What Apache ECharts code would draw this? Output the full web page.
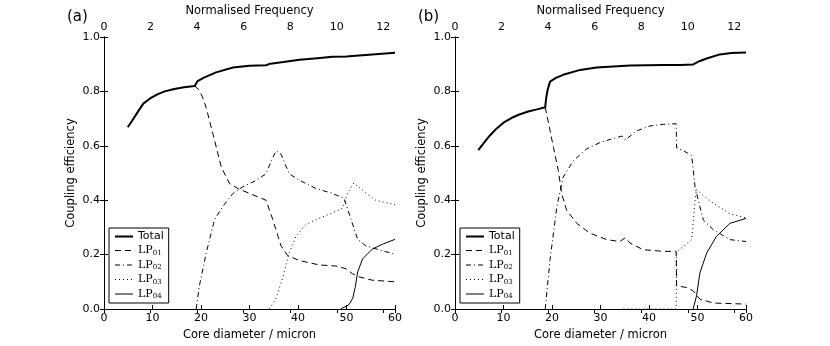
<!DOCTYPE html>
<html>
<head>
<meta charset="utf-8">
<script src="https://cdn.jsdelivr.net/npm/echarts@6/dist/echarts.min.js"></script>
<style>
  html, body { margin: 0; padding: 0; background: #fff; }
  #chart { width: 830px; height: 346px; }
</style>
</head>
<body>
<div id="chart"></div>
<script>
// panel (a): [core diameter, coupling efficiency]
const aTotal = [[4.9,0.668],[5.8,0.692],[6.8,0.72],[8.1,0.755],[9.5,0.774],[11,0.789],[12.5,0.8],[14.5,0.809],[16.5,0.815],[18.7,0.82],[19.3,0.838],[20.5,0.85],[23.1,0.87],[26.6,0.888],[30,0.894],[33.4,0.896],[34.3,0.902],[37,0.908],[40.3,0.916],[44,0.922],[47.1,0.927],[50,0.928],[51.9,0.931],[56,0.937],[60,0.942]]
const aLP01 = [[18.7,0.82],[19.7,0.804],[20.4,0.775],[21.1,0.738],[22.5,0.641],[24.2,0.521],[25.9,0.461],[27.6,0.443],[30,0.425],[33.4,0.4],[34.8,0.329],[36.5,0.232],[37.9,0.196],[40.3,0.178],[44.4,0.162],[47.8,0.158],[49.9,0.148],[51.2,0.13],[52.6,0.118],[55.3,0.106],[60,0.1]]
const aLP02 = [[19,0],[19.7,0.088],[21.1,0.208],[22.8,0.329],[24.5,0.377],[26.6,0.425],[28.6,0.449],[31.4,0.473],[33.4,0.497],[34.5,0.545],[35.5,0.582],[36.5,0.569],[38.2,0.497],[40.3,0.473],[43.7,0.443],[47.1,0.425],[49.5,0.407],[50.5,0.353],[52.3,0.256],[54,0.232],[57.4,0.214],[60,0.202]]
const aLP03 = [[34.1,0],[35.5,0.04],[36.8,0.112],[38.2,0.208],[39.6,0.268],[41.6,0.31],[43.7,0.329],[47.1,0.353],[49.2,0.371],[50.2,0.425],[51.5,0.463],[53.3,0.437],[56,0.4],[60,0.383]]
const aLP04 = [[48.8,0],[50.5,0.016],[51.3,0.04],[51.8,0.08],[52.3,0.136],[53.3,0.184],[55.3,0.22],[57.4,0.238],[60,0.256]]

// panel (b)
const bTotal = [[4.8,0.584],[6,0.612],[7.2,0.638],[8.6,0.664],[10,0.685],[11.7,0.703],[13.4,0.716],[15.1,0.726],[16.9,0.734],[18.6,0.742],[18.8,0.775],[19.1,0.806],[19.6,0.836],[20.8,0.85],[22.3,0.861],[25.8,0.879],[29.2,0.888],[36.1,0.895],[43,0.897],[46.4,0.897],[49.1,0.899],[50.5,0.912],[51.9,0.921],[54.6,0.936],[57,0.941],[60,0.943]]
const bLP01 = [[18.6,0.742],[19.2,0.691],[20.3,0.594],[21.3,0.509],[22,0.424],[23,0.364],[25.1,0.315],[27.8,0.279],[31.3,0.255],[34,0.248],[35.1,0.262],[36.1,0.242],[38.8,0.218],[43,0.212],[45.6,0.212],[45.7,0.085],[47.8,0.079],[49.1,0.067],[50.5,0.036],[53.3,0.022],[60,0.018]]
const bLP02 = [[18.6,0],[19.6,0.182],[21,0.376],[22.3,0.485],[24.4,0.545],[27.1,0.588],[29.9,0.612],[33.3,0.63],[34.4,0.636],[35.1,0.622],[37.5,0.655],[40.2,0.673],[43,0.679],[45.6,0.681],[45.7,0.592],[47.1,0.582],[48.8,0.564],[49.5,0.448],[50.5,0.376],[51.2,0.327],[53.3,0.291],[56.7,0.255],[60,0.248]]
const bLP03 = [[34.7,0],[45.6,0],[45.7,0.21],[47.1,0.23],[48.8,0.255],[49.5,0.4],[49.8,0.44],[51,0.42],[53.3,0.388],[56.7,0.35],[60,0.335]]
const bLP04 = [[49.1,0],[49.8,0.048],[50.5,0.133],[51.9,0.206],[53.9,0.267],[56.7,0.315],[60,0.333]]

const seriesNames = ['Total', 'LP01', 'LP02', 'LP03', 'LP04']
const yTicks = ['0.0', '0.2', '0.4', '0.6', '0.8', '1.0']

const lineStyles = [
  { width: 2, type: 'solid' },
  { width: 1, type: [6, 4] },
  { width: 1, type: [5, 3, 1, 3] },
  { width: 1, type: [1, 3] },
  { width: 1, type: 'solid' }
]

const panels = [
  { left: 104, label: '(a)', data: [aTotal, aLP01, aLP02, aLP03, aLP04] },
  { left: 455, label: '(b)', data: [bTotal, bLP01, bLP02, bLP03, bLP04] }
]

const font = 'DejaVu Sans'
const grids = [], xAxes = [], yAxes = [], series = [], legends = [], titles = []

panels.forEach((p, i) => {
  grids.push({ left: p.left, top: 34, width: 291, height: 277 })
  const common = {
    gridIndex: i,
    axisLine: { lineStyle: { color: '#000', width: 1 } },
    axisTick: { inside: true, length: 4, lineStyle: { color: '#000' } },
    splitLine: { show: false },
    axisLabel: { color: '#000', fontFamily: font, fontSize: 11, margin: 4 },
    nameTextStyle: { color: '#000', fontFamily: font, fontSize: 11.5 }
  }
  xAxes.push(Object.assign({}, common, {
    type: 'value', position: 'bottom', min: 0, max: 60, interval: 10,
    name: 'Core diameter / micron', nameLocation: 'middle', nameGap: 20
  }))
  xAxes.push(Object.assign({}, common, {
    type: 'value', position: 'top', min: 0, max: 12.5, interval: 2,
    name: 'Normalised Frequency', nameLocation: 'middle', nameGap: 20,
    axisLabel: Object.assign({}, common.axisLabel, {
      formatter: v => (v % 2 === 0 ? String(v) : '')
    })
  }))
  yAxes.push(Object.assign({}, common, {
    type: 'value', position: 'left', min: 0, max: 1, interval: 0.2,
    name: 'Coupling efficiency', nameLocation: 'middle', nameGap: 27,
    axisLabel: Object.assign({}, common.axisLabel, {
      formatter: v => yTicks[Math.round(v * 5)]
    })
  }))
  yAxes.push(Object.assign({}, common, {
    type: 'value', position: 'right', min: 0, max: 1, interval: 0.2,
    axisLabel: { show: false }
  }))
  p.data.forEach((d, k) => {
    series.push({
      name: seriesNames[k], type: 'line', xAxisIndex: i * 2, yAxisIndex: i * 2,
      data: d, symbol: 'none', silent: true,
      itemStyle: { color: '#000' },
      lineStyle: Object.assign({ color: '#000' }, lineStyles[k])
    })
  })
  legends.push({
    data: seriesNames.map((n, k) => ({
      name: n, lineStyle: Object.assign({ color: '#000' }, lineStyles[k])
    })),
    orient: 'vertical', left: p.left + 5, top: 228,
    backgroundColor: '#fff', borderColor: '#000', borderWidth: 1,
    padding: [3, 5, 3, 5], itemGap: 3, itemWidth: 18, itemHeight: 12,
    selectedMode: false,
    itemStyle: { opacity: 0 },
    textStyle: {
      color: '#000', fontFamily: font, fontSize: 11,
      rich: {
        lp: { fontFamily: 'DejaVu Serif', fontSize: 11, color: '#000' },
        sub: { fontFamily: 'DejaVu Serif', fontSize: 7, color: '#000', padding: [5, 0, 0, 0] }
      }
    },
    formatter: name => name === 'Total' ? name : '{lp|LP}{sub|' + name.slice(2) + '}'
  })
  titles.push({
    text: p.label, left: p.left - 42, top: 5,
    textStyle: { color: '#000', fontFamily: font, fontSize: 15, fontWeight: 'normal' }
  })
})

const chart = echarts.init(document.getElementById('chart'))
chart.setOption({
  animation: false,
  backgroundColor: '#fff',
  title: titles,
  grid: grids,
  xAxis: xAxes,
  yAxis: yAxes,
  legend: legends,
  series: series
})
</script>
</body>
</html>
